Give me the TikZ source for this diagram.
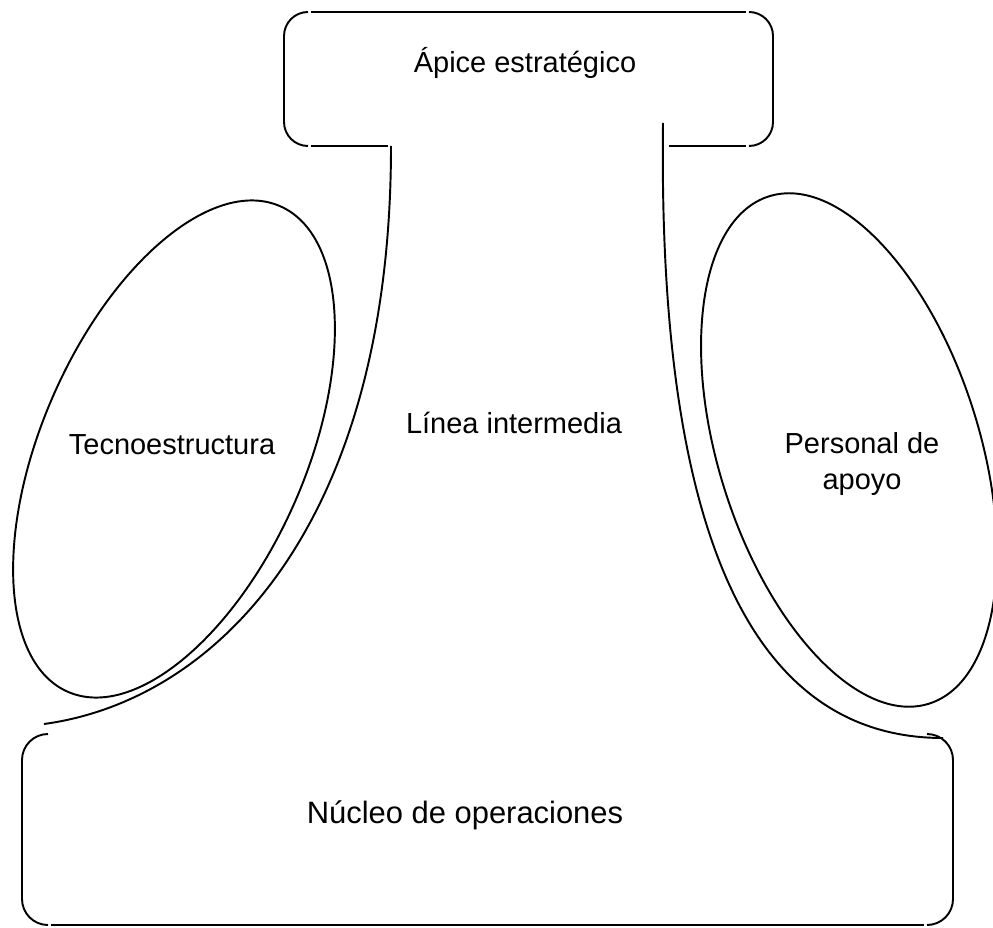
\documentclass[tikz,border=0pt]{standalone}
\usepackage{fontspec}
\setmainfont{Liberation Sans}

\begin{document}
\begin{tikzpicture}[x=0.02cm,y=-0.02cm]
\tikzset{trazo/.style={line width=1.1pt},
rotulo/.style={font=\fontsize{16.5}{19.5}\selectfont, inner sep=0pt, anchor=base}}
\useasboundingbox (0,0) rectangle (993,928);
\coordinate (l1) at (391,146);
\coordinate (l2) at (44,724);
\coordinate (r1) at (663,123);
\coordinate (r2) at (943,738);
% apice
\draw[trazo] (308,12) arc (270:180:24) -- (284,122) arc (180:90:24);
\draw[trazo] (749,12) arc (270:360:24) -- (773,122) arc (0:90:24);
\draw[trazo] (311,12)--(746,12);
\draw[trazo] (311,146)--(388,146);
\draw[trazo] (669,146)--(746,146);
% linea intermedia
\draw[trazo] (l1) .. controls (391,520) and (220,700) .. (l2);
\draw[trazo] (r1) .. controls (658,520) and (745,738) .. (r2);
% staff
\draw[trazo, rotate around={-23.6:(174,449)}] (174,449) ellipse [x radius=132, y radius=265];
\draw[trazo, rotate around={17.5:(849,450)}] (849,450) ellipse [x radius=130.5, y radius=266];
% nucleo
\draw[trazo] (48,734) arc (270:180:26) -- (22,899) arc (180:90:26);
\draw[trazo] (927,734) arc (270:360:26) -- (953,899) arc (0:90:26);
\draw[trazo] (51,925)--(924,925);
\node[rotulo] (apice) at (525,73) {Ápice estratégico};
\node[rotulo] (tecno) at (172,455) {Tecnoestructura};
\node[rotulo] (linea) at (514,434) {Línea intermedia};
\node[rotulo, align=center, font=\fontsize{16.5}{20.5}\selectfont] (apoyo) at (862,490) {Personal de\\apoyo};
\node[rotulo, font=\fontsize{17.6}{21}\selectfont] (nucleo) at (465,823) {Núcleo de operaciones};
\end{tikzpicture}
\end{document}
